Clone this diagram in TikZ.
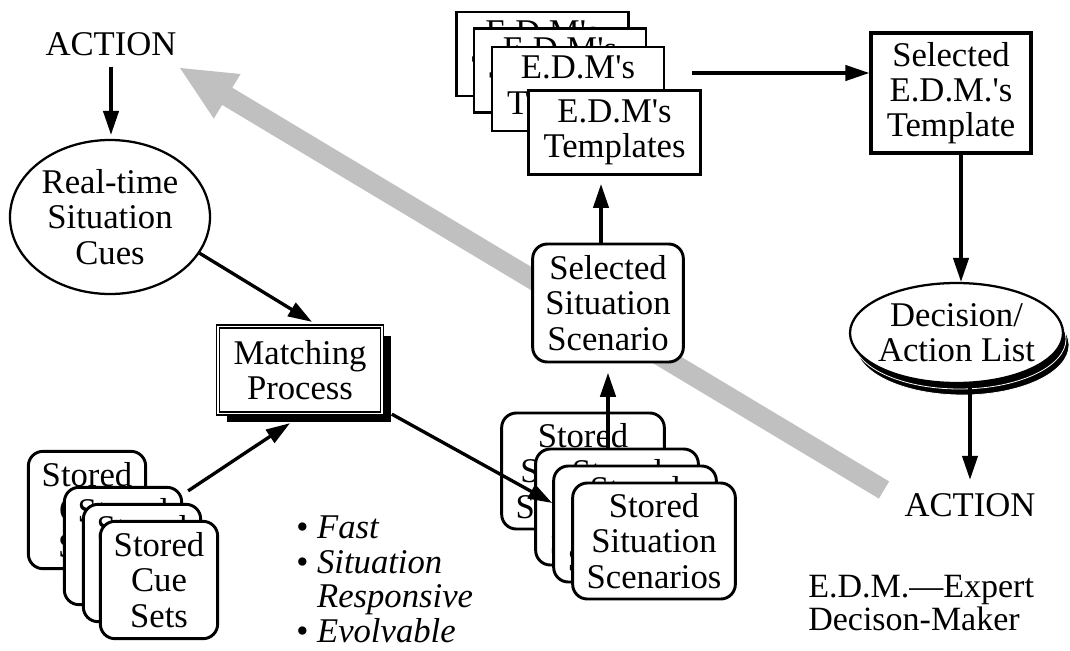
\documentclass[tikz,border=0pt]{standalone}
\usepackage{fontspec}
\setmainfont{Liberation Serif}[Ligatures=TeXOff]
\usetikzlibrary{arrows.meta,calc,shapes.geometric,shadows}
\definecolor{band}{RGB}{192,192,192}
\newcommand\bigfont{\fontsize{26}{26.5}\selectfont}

\begin{document}
\begin{tikzpicture}[x=0.75pt,y=-0.75pt,
  txt/.style={font=\bigfont, align=center, inner sep=0pt},
  arr/.style={line width=2.5pt, -{Triangle[length=18pt,width=11.5pt]}},
  cuebox/.style={draw, line width=2.2pt, rounded corners=11pt, fill=white,
    minimum width=88pt, minimum height=88pt, inner sep=1pt, font=\bigfont, align=center},
  scenbox/.style={draw, line width=2.2pt, rounded corners=11pt, fill=white,
    minimum width=122pt, minimum height=87pt, inner sep=1pt, font=\bigfont, align=center},
  tmplbox/.style={draw, line width=2.2pt, fill=white,
    minimum width=129pt, minimum height=63pt, inner sep=1pt, font=\bigfont, align=center},
  ell/.style={draw, ellipse, line width=1.7pt, fill=white, inner sep=0pt},
  decell/.style={ellipse, inner sep=0pt, minimum width=159.75pt, minimum height=75pt}
]
\useasboundingbox (0,0) rectangle (1070,650);

% broad grey feedback arrow (drawn first, everything sits on top)
\fill[band] (180,68) -- (240.6,74.0) -- (232.3,87.7) -- (889.1,481.4)
  -- (878.9,498.6) -- (222.1,104.9) -- (213.8,118.6) -- cycle;

% left column
\node[txt] (act1) at (111,44) {ACTION};
\node[ell, minimum width=150pt, minimum height=115.5pt] (rt) at (110,217) {};
\node[txt] (rtlab) at (rt.center) {Real-time\\Situation\\Cues};

\node[draw, double, line width=1.2pt, double distance=1.1pt, fill=white,
  minimum width=123pt, minimum height=65pt, inner sep=1pt, font=\bigfont, align=center,
  drop shadow={shadow xshift=6.75pt, shadow yshift=-6.75pt, opacity=1, fill=black}]
  (match) at (300,370) {Matching\\Process};

% stored cue sets stack
\node[cuebox] (cs1) at (87,510)  {Stored\\Cue\\Sets};
\node[cuebox] (cs2) at (123,546) {Stored\\Cue\\Sets};
\node[cuebox] (cs3) at (142,563) {Stored\\Cue\\Sets};
\node[cuebox] (cs4) at (159,580) {Stored\\Cue\\Sets};

% stored situation scenarios stack
\node[scenbox] (ss1) at (583,471) {Stored\\Situation\\Scenarios};
\node[scenbox] (ss2) at (617,507) {Stored\\Situation\\Scenarios};
\node[scenbox] (ss3) at (635,524) {Stored\\Situation\\Scenarios};
\node[scenbox] (ss4) at (654,541) {Stored\\Situation\\Scenarios};

\node[draw, line width=2.2pt, rounded corners=11pt, fill=white,
  minimum width=113pt, minimum height=88.5pt, inner sep=1pt, font=\bigfont, align=center]
  (sel) at (608,303) {Selected\\Situation\\Scenario};

% E.D.M. template stack
\node[tmplbox] (t1) at (542.5,54)  {E.D.M's\\Templates};
\node[tmplbox] (t2) at (560,70.5)  {E.D.M's\\Templates};
\node[tmplbox] (t3) at (578,89)    {E.D.M's\\Templates};
\node[tmplbox] (t4) at (614.5,132.5) {E.D.M's\\Templates};

\node[draw, line width=3pt, fill=white, minimum width=119.5pt, minimum height=89.5pt,
  inner sep=1pt, font=\bigfont, align=center]
  (selT) at (951,93) {Selected\\E.D.M.'s\\Template};

% decision list drawn as a thick disc
\coordinate (dc) at (956.5,333);
\node[decell, fill=black, draw=white, line width=0.6pt] (decs2) at ($(dc)+(6,12)$) {};
\node[decell, fill=black, draw=white, line width=0.6pt] (decs1) at ($(dc)+(3,6)$) {};
\node[decell, draw, fill=white, line width=1.7pt] (dec) at (dc) {};
\node[txt] (declab) at (dec.center) {Decision/\\Action List};

\node[txt] (act2) at (970,505) {ACTION};

% connectors
\draw[arr, shorten <=8pt, shorten >=3pt] (act1.south) -- (act1.south |- rt.north);
\draw[arr] (rt.-22) -- ($(match.north)+(12,-4)$);
\draw[arr] ($(cs2.north east)+(5,5)$) -- ($(match.south)+(-10,9)$);
\draw[arr] ($(match.south east)+(9,0)$) -- ($(ss3.west)+(0,-21)$);
\draw[arr, shorten >=7pt] (sel.south |- ss2.north) -- (sel.south);
\coordinate (u1) at ($(sel.north)+(-7,0)$);
\draw[arr, shorten >=6pt] (u1) -- (u1 |- t4.south);
\coordinate (ts) at ($(t3.east)+(27,-16)$);
\draw[arr] (ts) -- (selT.west |- ts);
\coordinate (d1) at ($(selT.south)+(10,0)$);
\draw[arr] (d1) -- (d1 |- dec.north);
\draw[arr, shorten >=10pt] (act2.north |- dec.south) -- (act2.north);

% annotations
\node[font=\fontsize{26}{25.8}\selectfont, align=left, inner sep=0pt, anchor=north west]
  (props) at (296,516)
  {• \textit{Fast}\\
   • \textit{Situation}\\
   \phantom{• }\textit{Responsive}\\
   • \textit{Evolvable}};
\node[font=\fontsize{25.5}{25}\selectfont, align=left, inner sep=0pt, anchor=north west]
  (legend) at (808,575) {E.D.M.—Expert\\Decison-Maker};
\end{tikzpicture}
\end{document}
